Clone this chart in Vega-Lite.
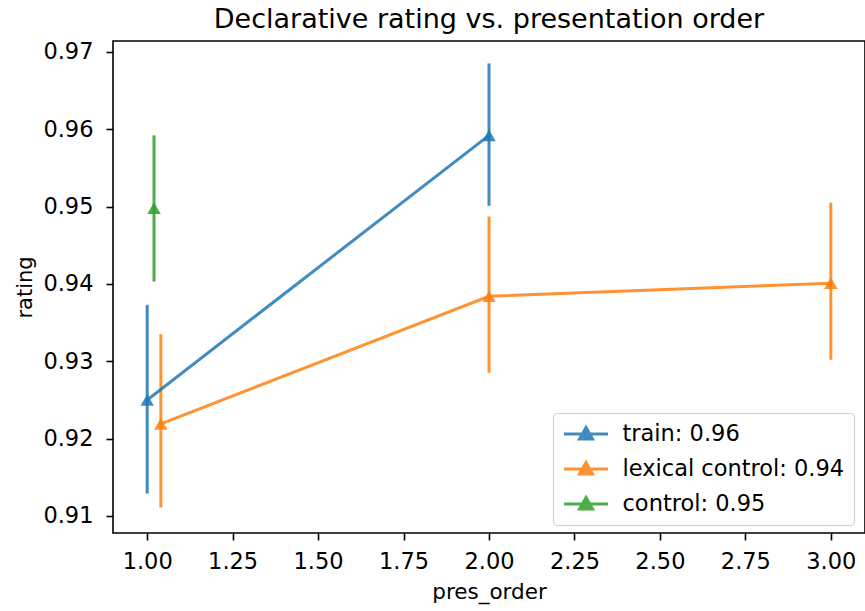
{
  "$schema": "https://vega.github.io/schema/vega-lite/v6.json",
  "autosize": {"type": "none"},
  "padding": {"left": 113, "top": 41, "right": 0, "bottom": 78},
  "width": 752,
  "height": 492,
  "background": "white",
  "title": {"text": "Declarative rating vs. presentation order", "fontSize": 27, "fontWeight": "normal", "font": "DejaVu Sans", "color": "black", "anchor": "middle", "offset": 7},
  "config": {
    "font": "DejaVu Sans",
    "view": {"stroke": "black", "strokeWidth": 1.6},
    "axis": {"grid": false, "domain": false, "tickColor": "black", "tickWidth": 1.6, "tickSize": 7, "labelFontSize": 22.5, "labelColor": "black", "titleFontSize": 21.5, "titleFontWeight": "normal", "titleColor": "black", "labelFont": "DejaVu Sans", "titleFont": "DejaVu Sans"}
  },
  "data": {"values": [
    {"group": "train: 0.96", "pres_order": 1.00, "rating": 0.9250, "lo": 0.9129, "hi": 0.9373},
    {"group": "train: 0.96", "pres_order": 2.00, "rating": 0.9592, "lo": 0.9501, "hi": 0.9685},
    {"group": "lexical control: 0.94", "pres_order": 1.04, "rating": 0.9219, "lo": 0.9111, "hi": 0.9335},
    {"group": "lexical control: 0.94", "pres_order": 2.00, "rating": 0.9384, "lo": 0.9285, "hi": 0.9487},
    {"group": "lexical control: 0.94", "pres_order": 3.00, "rating": 0.9401, "lo": 0.9302, "hi": 0.9505},
    {"group": "control: 0.95", "pres_order": 1.02, "rating": 0.9498, "lo": 0.9403, "hi": 0.9592}
  ]},
  "encoding": {
    "x": {"field": "pres_order", "type": "quantitative", "scale": {"domain": [0.9, 3.1], "nice": false, "zero": false},
      "axis": {"values": [1, 1.25, 1.5, 1.75, 2, 2.25, 2.5, 2.75, 3], "format": ".2f", "title": "pres_order", "labelPadding": 10, "titlePadding": 9}},
    "y": {"field": "rating", "type": "quantitative", "scale": {"domain": [0.9078, 0.9714], "nice": false, "zero": false},
      "axis": {"values": [0.91, 0.92, 0.93, 0.94, 0.95, 0.96, 0.97], "format": ".2f", "title": "rating", "titleFontSize": 21, "labelPadding": 13, "titlePadding": 7}},
    "color": {"field": "group", "type": "nominal",
      "scale": {"domain": ["train: 0.96", "lexical control: 0.94", "control: 0.95"], "range": ["#1f77b4", "#ff7f0e", "#2ca02c"]},
      "legend": {"title": null, "orient": "none", "legendX": 440, "legendY": 372,
        "labelFontSize": 22.5, "labelColor": "black", "labelFont": "DejaVu Sans", "labelLimit": 400,
        "symbolType": "M-2.2,0L2.2,0M0,-0.65L0.65,0.5L-0.65,0.5Z", "symbolSize": 400, "symbolStrokeWidth": 3, "symbolOpacity": 0.85,
        "symbolOffset": 12, "labelOffset": 25,
        "padding": 9.5, "rowPadding": 11, "strokeColor": "#cccccc", "fillColor": "rgba(255,255,255,0.8)", "cornerRadius": 4,
        "encode": {"symbols": {"update": {"fill": {"scale": "color", "field": "value"}, "stroke": {"scale": "color", "field": "value"}}}}}
    }
  },
  "layer": [
    {"mark": {"type": "rule", "strokeWidth": 3, "opacity": 0.85}, "encoding": {"y": {"field": "lo", "type": "quantitative"}, "y2": {"field": "hi"}}},
    {"mark": {"type": "line", "strokeWidth": 3, "opacity": 0.85}, "encoding": {"order": {"field": "pres_order", "type": "quantitative"}}},
    {"mark": {"type": "point", "shape": "triangle-up", "filled": true, "size": 180, "opacity": 0.85}, "encoding": {}}
  ]
}
